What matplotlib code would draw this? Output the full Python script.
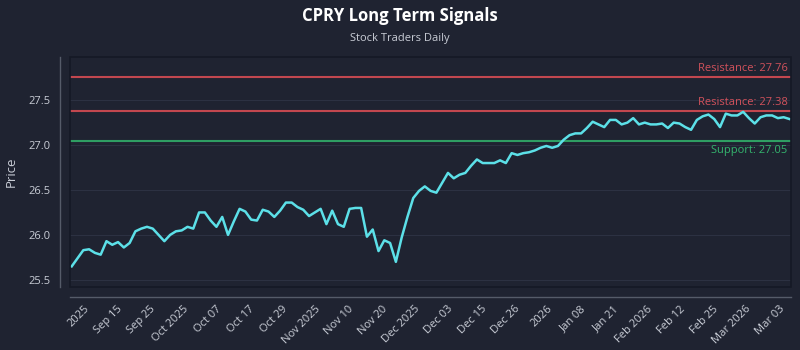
import numpy as np
import matplotlib
matplotlib.use("Agg")
import matplotlib.pyplot as plt
from matplotlib.patches import Rectangle

plt.rcParams['font.family'] = ['Open Sans', 'DejaVu Sans']

# Daily closing prices (trading days)
prices = [
    25.65, 25.74, 25.83, 25.84, 25.80, 25.78, 25.93, 25.89, 25.92, 25.86,
    25.91, 26.04, 26.07, 26.09, 26.07, 26.00, 25.93, 26.00, 26.04, 26.05,
    26.09, 26.07, 26.25, 26.25, 26.16, 26.09, 26.20, 26.00, 26.15, 26.29,
    26.26, 26.17, 26.16, 26.28, 26.26, 26.20, 26.27, 26.36, 26.36, 26.31,
    26.28, 26.21, 26.25, 26.29, 26.12, 26.27, 26.12, 26.09, 26.29, 26.30,
    26.30, 25.98, 26.06, 25.82, 25.94, 25.91, 25.70, 25.97, 26.20, 26.41,
    26.49, 26.54, 26.49, 26.47, 26.58, 26.69, 26.63, 26.67, 26.69, 26.77,
    26.84, 26.80, 26.80, 26.80, 26.83, 26.80, 26.91, 26.89, 26.91, 26.92,
    26.94, 26.97, 26.99, 26.97, 26.99, 27.06, 27.11, 27.13, 27.13, 27.19,
    27.26, 27.23, 27.20, 27.28, 27.28, 27.23, 27.25, 27.30, 27.23, 27.25,
    27.23, 27.23, 27.24, 27.19, 27.25, 27.24, 27.20, 27.17, 27.28, 27.32,
    27.34, 27.29, 27.20, 27.35, 27.33, 27.33, 27.37, 27.30, 27.24, 27.31,
    27.33, 27.33, 27.30, 27.31, 27.29,
]

date_labels = [
    "2025", "Sep 15", "Sep 25", "Oct 2025", "Oct 07", "Oct 17", "Oct 29",
    "Nov 2025", "Nov 10", "Nov 20", "Dec 2025", "Dec 03", "Dec 15", "Dec 26",
    "2026", "Jan 08", "Jan 21", "Feb 2026", "Feb 12", "Feb 25", "Mar 2026",
    "Mar 03",
]

resistance_levels = [27.76, 27.38]
support_levels = [27.05]

y_ticks = [25.5, 26.0, 26.5, 27.0, 27.5]

BG = "#1f2331"
LINE = "#5ce0e8"
RED = "#c2474f"
RED_TXT = "#d2525c"
GREEN = "#2f9e63"
GREEN_TXT = "#34b56e"
TXT = "#c9cdd6"
SPINE = "#555b69"

fig = plt.figure(figsize=(8, 3.5), dpi=100, facecolor=BG)
ax = fig.add_axes([0.0875, 0.18, 0.9015, 0.657])
ax.set_facecolor(BG)

# offset spines first (repositioning a spine resets the tick objects)
for side in ('left', 'bottom'):
    ax.spines[side].set_position(('outward', 7))
    ax.spines[side].set_color(SPINE)
    ax.spines[side].set_linewidth(1.0)
for side in ('top', 'right'):
    ax.spines[side].set_visible(False)

x = np.arange(len(prices))
ax.plot(x, prices, color=LINE, lw=1.8, zorder=3, solid_joinstyle='round')

for lvl in resistance_levels:
    ax.axhline(lvl, color=RED, lw=1.5, zorder=2)
    ax.text(0.995, lvl + 0.03, f"Resistance: {lvl:.2f}", transform=ax.get_yaxis_transform(),
            ha='right', va='bottom', color=RED_TXT, fontsize=8)
for lvl in support_levels:
    ax.axhline(lvl, color=GREEN, lw=1.5, zorder=2)
    ax.text(0.995, lvl - 0.05, f"Support: {lvl:.2f}", transform=ax.get_yaxis_transform(),
            ha='right', va='top', color=GREEN_TXT, fontsize=8)

ax.set_xlim(-0.3, len(prices) - 1 + 0.3)
ax.set_ylim(25.42, 27.98)

ax.grid(axis='y', color='#2c3142', lw=0.8, zorder=0)
ax.grid(axis='x', visible=False)

ax.tick_params(axis='both', colors=TXT, labelsize=8, length=0)
ax.tick_params(axis='y', pad=7)
ax.tick_params(axis='x', pad=5)

ax.set_yticks(y_ticks)
ax.set_yticklabels([f"{v:.1f}" for v in y_ticks])
ticks = np.linspace(3.4, 123.5, len(date_labels))
ax.set_xticks(ticks)
ax.set_xticklabels(date_labels, rotation=45, ha='right')

# dark frame around the plotting region
ax.add_patch(Rectangle((0, 0), 1, 1, transform=ax.transAxes, fill=False,
                       edgecolor='#151925', lw=1.2, zorder=5, clip_on=False))

ax.set_ylabel("Price", color=TXT, fontsize=9.5, labelpad=8)

fig.text(0.5, 0.955, "CPRY Long Term Signals", ha='center', va='center',
         color='white', fontsize=12, fontweight='bold')
fig.text(0.5, 0.89, "Stock Traders Daily", ha='center', va='center',
         color=TXT, fontsize=8)

fig.savefig("out.png", dpi=100, facecolor=BG)
